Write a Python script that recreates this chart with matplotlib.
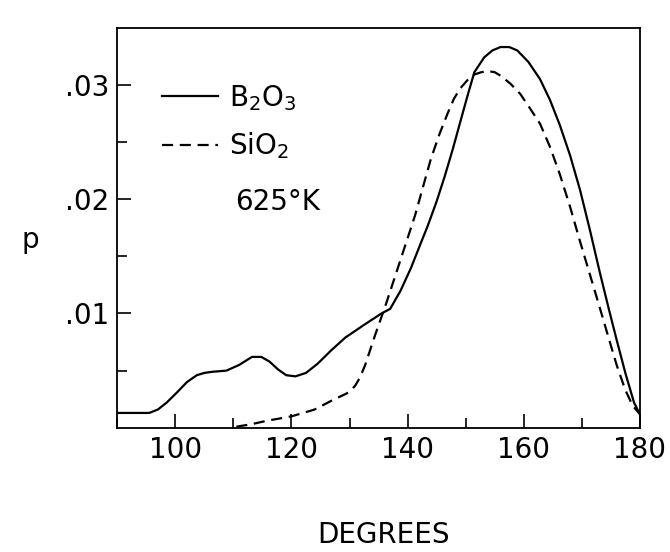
import matplotlib
matplotlib.use("Agg")
import matplotlib.pyplot as plt
from matplotlib.ticker import MultipleLocator, FixedLocator, FixedFormatter

# angle (degrees) and p
b2o3_deg = [90, 95.5, 97, 98.5, 100.3, 102, 103.7, 105, 106.4, 108.8, 111, 113.2,
            114.8, 116.2, 117.7, 119.1, 120.7, 122.5, 124.5, 126.9, 129.3, 132.5,
            135.5, 137, 138.8, 140.6, 142, 143.5, 145, 146.4, 147.8, 149.1, 150.3,
            151.5, 153.2, 154.6, 156, 157.5, 158.9, 160.8, 162.8, 164.5, 166.2,
            168, 169.7, 171.4, 173.1, 174.6, 176, 177.5, 179, 180]
b2o3_p = [0.0013, 0.0013, 0.0016, 0.0022, 0.0031, 0.0040, 0.0046, 0.0048,
          0.0049, 0.0050, 0.0055, 0.0062, 0.0062, 0.0058, 0.0051, 0.0046,
          0.0045, 0.0048, 0.0056, 0.0068, 0.0079, 0.0090, 0.0100, 0.0104,
          0.0120, 0.0140, 0.0158, 0.0177, 0.0198, 0.0220, 0.0244, 0.0268,
          0.0290, 0.0311, 0.0324, 0.0330, 0.0333, 0.0333, 0.0330, 0.0320,
          0.0305, 0.0287, 0.0265, 0.0238, 0.0208, 0.0173, 0.0136, 0.0105,
          0.0077, 0.0048, 0.0022, 0.0012]

sio2_deg = [110.5, 113, 115.6, 120, 124, 127, 129.5, 130.3, 131, 131.8, 132.7,
            134.4, 136.2, 138.4, 141.3, 144, 145.5, 146.9, 148, 149.1, 150.3,
            151.5, 152.7, 153.8, 155, 156, 157.7, 159.4, 161, 162.8, 164.5,
            166.2, 168, 169.7, 171.4, 173.1, 174.6, 176, 177.5, 178.8, 180]
sio2_p = [0.0001, 0.0003, 0.0006, 0.0010, 0.0016, 0.0024, 0.0030, 0.0033,
          0.0037, 0.0044, 0.0055, 0.0081, 0.0107, 0.0141, 0.0186, 0.0235,
          0.0257, 0.0275, 0.0288, 0.0297, 0.0304, 0.0309, 0.0311, 0.0312,
          0.0311, 0.0308, 0.0301, 0.0292, 0.0280, 0.0266, 0.0246, 0.0222,
          0.0193, 0.0163, 0.0134, 0.0105, 0.0079, 0.0055, 0.0033, 0.0019,
          0.0012]

x_ticks = [100, 120, 140, 160, 180]
y_ticks = [0.01, 0.02, 0.03]
y_labels = [".01", ".02", ".03"]

fig = plt.figure(figsize=(6.7, 5.52), dpi=100)
ax = fig.add_axes([0.175, 0.225, 0.78, 0.725])

ax.plot(b2o3_deg, b2o3_p, color="black", lw=1.6, label="B$_2$O$_3$")
ax.plot(sio2_deg, sio2_p, color="black", lw=1.6, ls=(0, (5, 3)), label="SiO$_2$")

ax.set_xlim(90, 180)
ax.set_ylim(0, 0.035)
ax.xaxis.set_major_locator(FixedLocator(x_ticks))
ax.xaxis.set_minor_locator(MultipleLocator(10))
ax.yaxis.set_major_locator(FixedLocator(y_ticks))
ax.yaxis.set_major_formatter(FixedFormatter(y_labels))
ax.yaxis.set_minor_locator(FixedLocator([0.005, 0.015, 0.025]))
ax.tick_params(which="both", direction="in", width=1.2, labelsize=20)
ax.tick_params(which="major", length=10)
ax.tick_params(which="minor", length=7)
ax.tick_params(axis="x", pad=6)
ax.tick_params(axis="y", pad=6)
for s in ax.spines.values():
    s.set_linewidth(1.3)

leg = ax.legend(loc="upper left", bbox_to_anchor=(0.065, 0.89), frameon=False,
                fontsize=20, handlelength=2.0, handletextpad=0.4,
                labelspacing=0.65, borderaxespad=0)
ax.text(0.225, 0.565, "625°K", transform=ax.transAxes, fontsize=20,
        va="center", ha="left")

fig.text(0.045, 0.565, "p", fontsize=20, ha="center", va="center")
fig.text(0.573, 0.031, "DEGREES", fontsize=20, ha="center", va="center")

fig.savefig("out.png", dpi=100)
